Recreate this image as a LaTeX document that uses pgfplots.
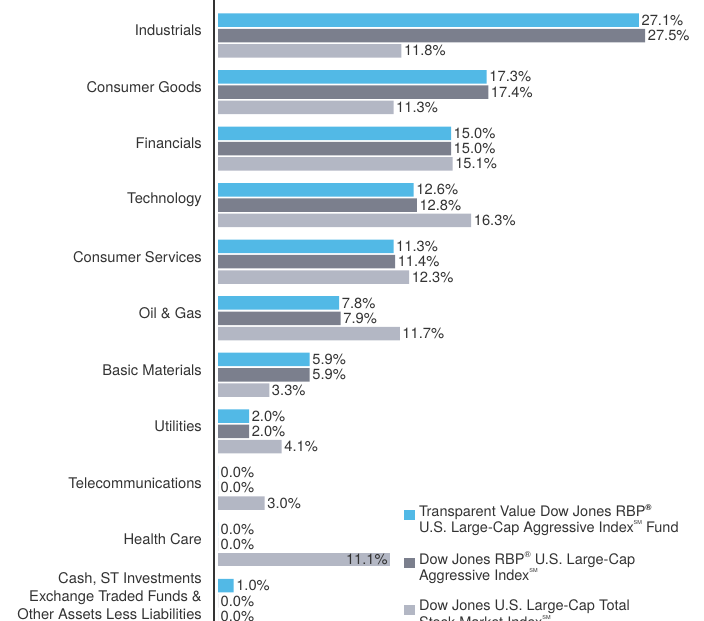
\documentclass[border=0pt]{standalone}
\usepackage{fontspec}
\setmainfont{TeX Gyre Heros}
\usepackage{pgfplots}
\pgfplotsset{compat=1.18}
\definecolor{cblue}{HTML}{52B9E6}
\definecolor{cdark}{HTML}{7B7F8D}
\definecolor{clight}{HTML}{B3B7C4}
\definecolor{ctext}{HTML}{333333}
\newcommand{\lbl}{\fontsize{14.7bp}{18bp}\selectfont}
\newcommand{\leg}{\fontsize{14.5bp}{16.5bp}\selectfont}
\newcommand{\sm}{\raisebox{0.55em}{\fontsize{5.5bp}{6bp}\selectfont SM}}
\newcommand{\regb}{\raisebox{0.42em}{\fontsize{8.5bp}{8.5bp}\selectfont\bfseries\textregistered}}
\newcommand{\reg}{\raisebox{0.42em}{\fontsize{8.5bp}{8.5bp}\selectfont\textregistered}}
\begin{document}
\begin{tikzpicture}
\useasboundingbox (0,0) rectangle (704bp,621bp);
\begin{axis}[
  at={(214bp,0bp)}, anchor=south west,
  scale only axis, width=485.5bp, height=621bp,
  xbar, y dir=reverse,
  xmin=-0.26, xmax=31, ymin=-0.628, ymax=10.354,
  axis x line=none, axis y line*=left,
  axis line style={ctext, line width=1.3bp, -},
  every outer y axis line/.append style={-},
  ytick={0,...,10},
  yticklabels={{Industrials},{Consumer Goods},{Financials},{Technology},{Consumer Services},{Oil \& Gas},{Basic Materials},{Utilities},{Telecommunications},{Health Care},{Cash, ST Investments\\Exchange Traded Funds \&\\Other Assets Less Liabilities}},
  major tick length=0pt,
  yticklabel style={font=\lbl, text=ctext, align=right, inner sep=0pt, xshift=-12bp, yshift=5bp},
  bar width=13.5bp,
  nodes near coords={\pgfmathprintnumber[fixed,fixed zerofill,precision=1]{\pgfplotspointmeta}\%},
  every node near coord/.append style={font=\lbl, text=ctext, inner sep=2.5bp, anchor=west},
  /pgf/number format/assume math mode=true,
  clip=false,
  legend style={at={(axis cs:11.97,8.285)}, anchor=north west, draw=none, fill=none,
    inner sep=0pt, row sep=18bp, column sep=0bp, font=\leg,
    nodes={inner sep=0pt, align=left, text=ctext}},
  legend cell align=left,
]
\addplot[fill=cblue, draw=none, bar shift=15.3bp,
  legend image code/.code={\fill[cblue] (0bp,-0.5bp) rectangle (11bp,9.5bp);}]
  coordinates {(27.1,0) (17.3,1) (15.0,2) (12.6,3) (11.3,4) (7.8,5) (5.9,6) (2.0,7) (0.0,8) (0.0,9) (1.0,10)};
\addlegendentry{\hspace{4bp}Transparent Value Dow Jones RBP\regb\\\hspace{4bp}U.S. Large-Cap Aggressive Index\sm{} Fund}
\addplot[fill=cdark, draw=none, bar shift=0bp,
  legend image code/.code={\fill[cdark] (0bp,-0.5bp) rectangle (11bp,9.5bp);}]
  coordinates {(27.5,0) (17.4,1) (15.0,2) (12.8,3) (11.4,4) (7.9,5) (5.9,6) (2.0,7) (0.0,8) (0.0,9) (0.0,10)};
\addlegendentry{\hspace{4bp}Dow Jones RBP\reg{} U.S. Large-Cap\\\hspace{4bp}Aggressive Index\sm}
\addplot[fill=clight, draw=none, bar shift=-15.3bp,
  legend image code/.code={\fill[clight] (0bp,-0.5bp) rectangle (11bp,9.5bp);}]
  coordinates {(11.8,0) (11.3,1) (15.1,2) (16.3,3) (12.3,4) (11.7,5) (3.3,6) (4.1,7) (3.0,8) (0.0,10)};
\addlegendentry{\hspace{4bp}Dow Jones U.S. Large-Cap Total\\\hspace{4bp}Stock Market Index\sm}
\addplot[fill=clight, draw=none, bar shift=-15.3bp, forget plot,
  every node near coord/.append style={anchor=east}]
  coordinates {(11.1,9)};
\end{axis}
\end{tikzpicture}
\end{document}
